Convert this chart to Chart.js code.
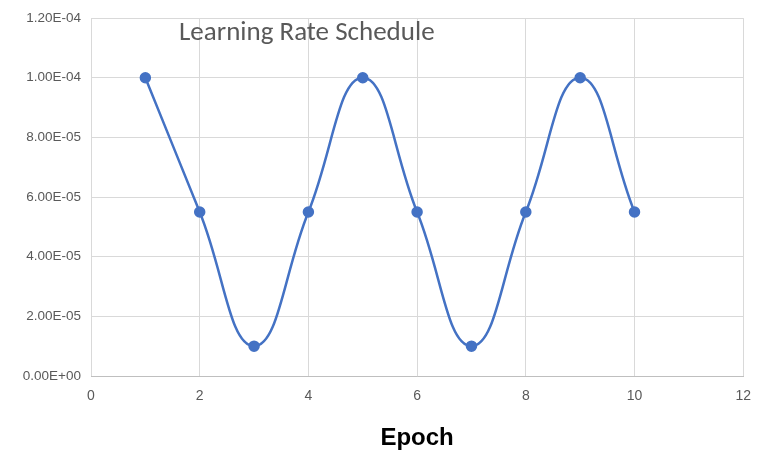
<!DOCTYPE html>
<html>
<head>
<meta charset="utf-8">
<script src="https://cdn.jsdelivr.net/npm/chart.js@4"></script>
<style>
  body { margin: 0; background: #fff; }
  #wrap { position: relative; width: 763px; height: 457px; }
  #title { position: absolute; left: 179px; top: 14px; font: 27px Carlito, "Open Sans", sans-serif; color: #595959; }
</style>
</head>
<body>
<div id="wrap">
  <canvas id="lr" width="763" height="457"></canvas>
  <div id="title">Learning Rate Schedule</div>
</div>
<script>
const epochs = [1, 2, 3, 4, 5, 6, 7, 8, 9, 10];
const rates = [1.0e-4, 5.5e-5, 1.0e-5, 5.5e-5, 1.0e-4, 5.5e-5, 1.0e-5, 5.5e-5, 1.0e-4, 5.5e-5];

const ctx = document.getElementById('lr').getContext('2d');

const lrChart = new Chart(ctx, {
    type: 'line',
    data: {
        datasets: [{
            data: epochs.map((e, i) => ({ x: e, y: rates[i] })),
            borderColor: '#4472C4',
            backgroundColor: '#4472C4',
            borderWidth: 2.5,
            pointRadius: 4.5,
            tension: 0.45,
            fill: false,
        }]
    },
    options: {
        responsive: false,
        animation: false,
        layout: { padding: { left: 0, right: 16, top: 17, bottom: 0 } },
        plugins: { legend: { display: false }, tooltip: { enabled: false } },
        scales: {
            x: {
                type: 'linear',
                min: 0,
                max: 12,
                ticks: { stepSize: 2, color: '#595959', font: { size: 14 }, padding: 12 },
                grid: { color: '#d9d9d9', drawTicks: false },
                border: { color: '#bfbfbf' },
                title: { display: true, text: 'Epoch', color: '#000', font: { size: 24, weight: 'bold' }, padding: { top: 14, left: 26 } },
                afterFit: (s) => { s.height = 81; }
            },
            y: {
                min: 0,
                max: 1.2e-4,
                ticks: {
                    stepSize: 2e-5,
                    color: '#595959',
                    font: { size: 13.5 },
                    padding: 10,
                    callback: (v) => v.toExponential(2).toUpperCase().replace(/E([+-])(\d)$/, 'E$10$2')
                },
                grid: { color: '#d9d9d9', drawTicks: false },
                border: { display: false },
                afterFit: (s) => { s.width = 91; }
            }
        }
    }
});
</script>
</body>
</html>
